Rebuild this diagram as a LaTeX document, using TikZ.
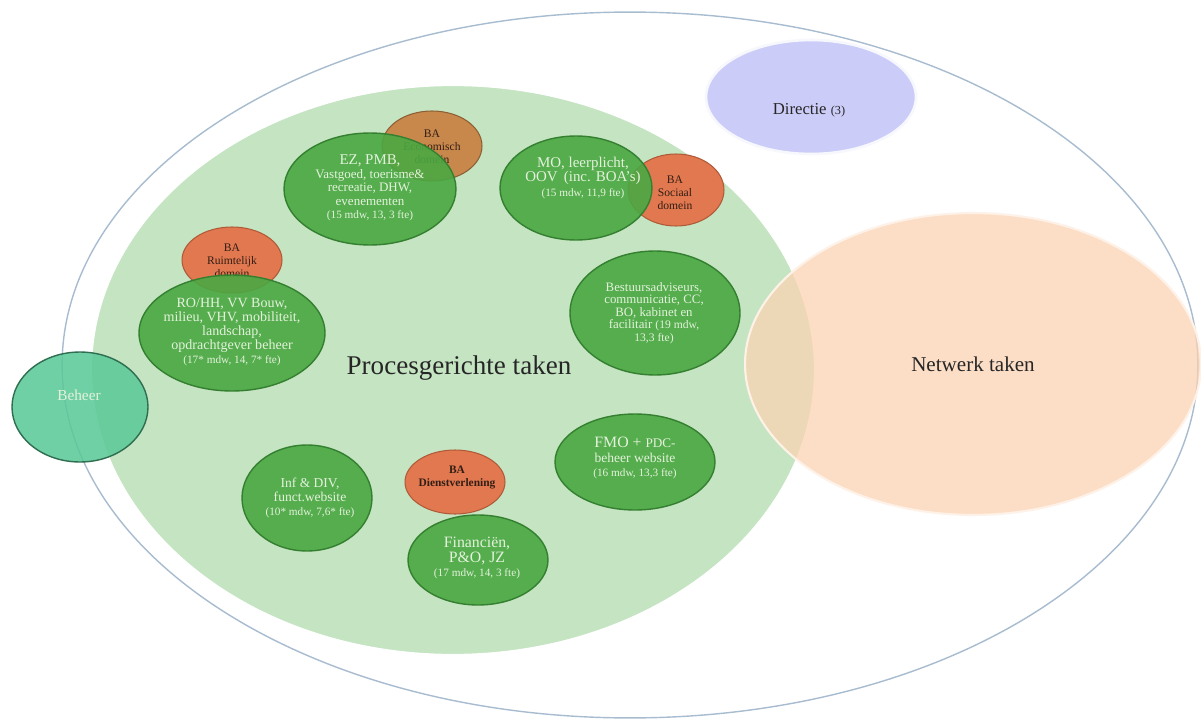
\documentclass[tikz,border=0pt]{standalone}
\usepackage{fontspec}
\setmainfont{Liberation Serif}
\usetikzlibrary{shapes.geometric}
\definecolor{outerline}{RGB}{168,188,208}
\definecolor{biggreen}{RGB}{196,228,194}
\definecolor{netfill}{RGB}{252,210,178}
\definecolor{dirfill}{RGB}{204,204,248}
\definecolor{behfill}{RGB}{88,200,150}
\definecolor{nodegreen}{RGB}{74,168,66}
\definecolor{nodegreenline}{RGB}{52,128,48}
\definecolor{baorange}{RGB}{226,120,80}
\definecolor{baorangeline}{RGB}{176,90,56}
\definecolor{babrown}{RGB}{200,136,76}
\definecolor{gtext}{RGB}{228,242,220}
\definecolor{btext}{RGB}{50,30,20}
\tikzset{
  ell/.style={ellipse, inner sep=0pt},
  gnode/.style={ell, fill=nodegreen, fill opacity=0.9, draw=nodegreenline, line width=0.8pt},
  banode/.style={ell, fill=baorange, draw=baorangeline, line width=0.6pt},
  gtxt/.style={align=center, text=gtext, inner sep=0pt, font=\fontsize{7.4}{7.6}\selectfont},
  btxt/.style={align=center, text=btext, inner sep=0pt, font=\fontsize{6.6}{7.3}\selectfont},
}
\newcommand{\fsA}{\fontsize{8.5}{9}\selectfont}
\newcommand{\fsC}{\fontsize{6.4}{7}\selectfont}
\begin{document}
\begin{tikzpicture}[x=0.02cm,y=-0.02cm]
\useasboundingbox[fill=white] (0,0) rectangle (1201,720);
% outer
\node[ell, draw=outerline, line width=0.8pt, fill=white, minimum width=22.72cm, minimum height=14.12cm] (outer) at (630,365) {};
% big green
\node[ell, fill=biggreen, draw=white, line width=1.2pt, minimum width=14.48cm, minimum height=11.4cm] (proc) at (453,370) {};
% directie
\node[ell, fill=dirfill, draw=white!85!dirfill, line width=1.5pt, minimum width=4.2cm, minimum height=2.28cm] (dir) at (811,97) {};
\node[btxt, text=black!85, font=\fontsize{9.5}{10}\selectfont] (dirtxt) at (809,110) {Directie {\fontsize{7}{8}\selectfont (3)}};
% beheer
\node[ell, fill=behfill, fill opacity=0.85, draw=black!45!behfill, line width=0.8pt, minimum width=2.72cm, minimum height=2.2cm] (beh) at (80,407) {};
\node[gtxt, font=\fontsize{8.7}{9}\selectfont] (behtxt) at (79,395) {Beheer};
% BA nodes (behind)
\node[ell, fill=babrown, draw=black!30!babrown, line width=0.6pt, minimum width=2.0cm, minimum height=1.4cm] (baeco) at (432,146) {};
\node[btxt] (baecotxt) at (432,147) {BA\\ Economisch\\ domein};
\node[banode, minimum width=1.92cm, minimum height=1.44cm] (basoc) at (676,190) {};
\node[btxt] (basoctxt) at (675,193) {BA\\ Sociaal\\ domein};
\node[banode, minimum width=2.0cm, minimum height=1.32cm] (baruim) at (232,260) {};
\node[btxt] (baruimtxt) at (232,261) {BA\\ Ruimtelijk\\ domein};
\node[banode, minimum width=2.0cm, minimum height=1.28cm] (badien) at (455,482) {};
\node[btxt, font=\fontsize{6.5}{7.4}\selectfont\bfseries] (badientxt) at (457,477) {BA\\ Dienstverlening};
% green nodes
\node[gnode, minimum width=3.44cm, minimum height=2.24cm] (ez) at (370,189) {};
\node[gtxt] (eztxt) at (370,188) {{\fsA EZ, PMB,}\\ Vastgoed, toerisme\&\\ recreatie, DHW,\\ evenementen\\ {\fsC (15 mdw, 13, 3 fte)}};
\node[gnode, minimum width=3.04cm, minimum height=2.08cm] (mo) at (576,188) {};
\node[gtxt, font=\fontsize{8.5}{8.2}\selectfont] (motxt) at (583,178) {MO, leerplicht,\\ OOV \,(inc. BOA's)\\ {\fsC (15 mdw, 11,9 fte)}};
\node[gnode, minimum width=3.72cm, minimum height=2.32cm] (ro) at (232,333) {};
\node[gtxt, font=\fontsize{8}{7.9}\selectfont] (rotxt) at (232,332) {RO/HH, VV Bouw,\\ milieu, VHV, mobiliteit,\\ landschap,\\ opdrachtgever beheer\\ {\fsC (17* mdw, 14, 7* fte)}};
\node[gnode, minimum width=3.4cm, minimum height=2.48cm] (best) at (655,313) {};
\node[gtxt, font=\fontsize{7.3}{7.1}\selectfont] (besttxt) at (654,313) {Bestuursadviseurs,\\ communicatie, CC,\\ BO, kabinet en\\ facilitair {\fontsize{6.6}{7}\selectfont(19 mdw,}\\ {\fontsize{6.6}{7}\selectfont 13,3 fte)}};
\node[gnode, minimum width=3.2cm, minimum height=1.92cm] (fmo) at (635,462) {};
\node[gtxt, font=\fontsize{7.7}{8.2}\selectfont] (fmotxt) at (635,458) {{\fontsize{9}{9}\selectfont FMO + {\fontsize{7.5}{8}\selectfont PDC-}}\\ beheer website\\ {\fsC (16 mdw, 13,3 fte)}};
\node[gnode, minimum width=2.6cm, minimum height=2.12cm] (inf) at (307,498) {};
\node[gtxt, font=\fontsize{7.7}{8.2}\selectfont] (inftxt) at (310,498) {Inf \& DIV,\\ funct.website\\ {\fsC (10* mdw, 7,6* fte)}};
\node[gnode, minimum width=2.8cm, minimum height=1.8cm] (fin) at (478,560) {};
\node[gtxt, font=\fontsize{9}{8.4}\selectfont] (fintxt) at (477,558) {Financiën,\\ P\&O, JZ\\ {\fsC (17 mdw, 14, 3 fte)}};
% titles
\node[inner sep=0pt, text=black!85, font=\fontsize{15.4}{16}\selectfont] (proctxt) at (459,368) {Procesgerichte taken};
% netwerk
\node[ell, fill=netfill, fill opacity=0.72, draw=white!70!netfill, line width=1.2pt, minimum width=9.12cm, minimum height=6.04cm] (net) at (973,364) {};
\node[inner sep=0pt, text=black!85, font=\fontsize{12}{13}\selectfont] (nettxt) at (973,364) {Netwerk taken};
\end{tikzpicture}
\end{document}
